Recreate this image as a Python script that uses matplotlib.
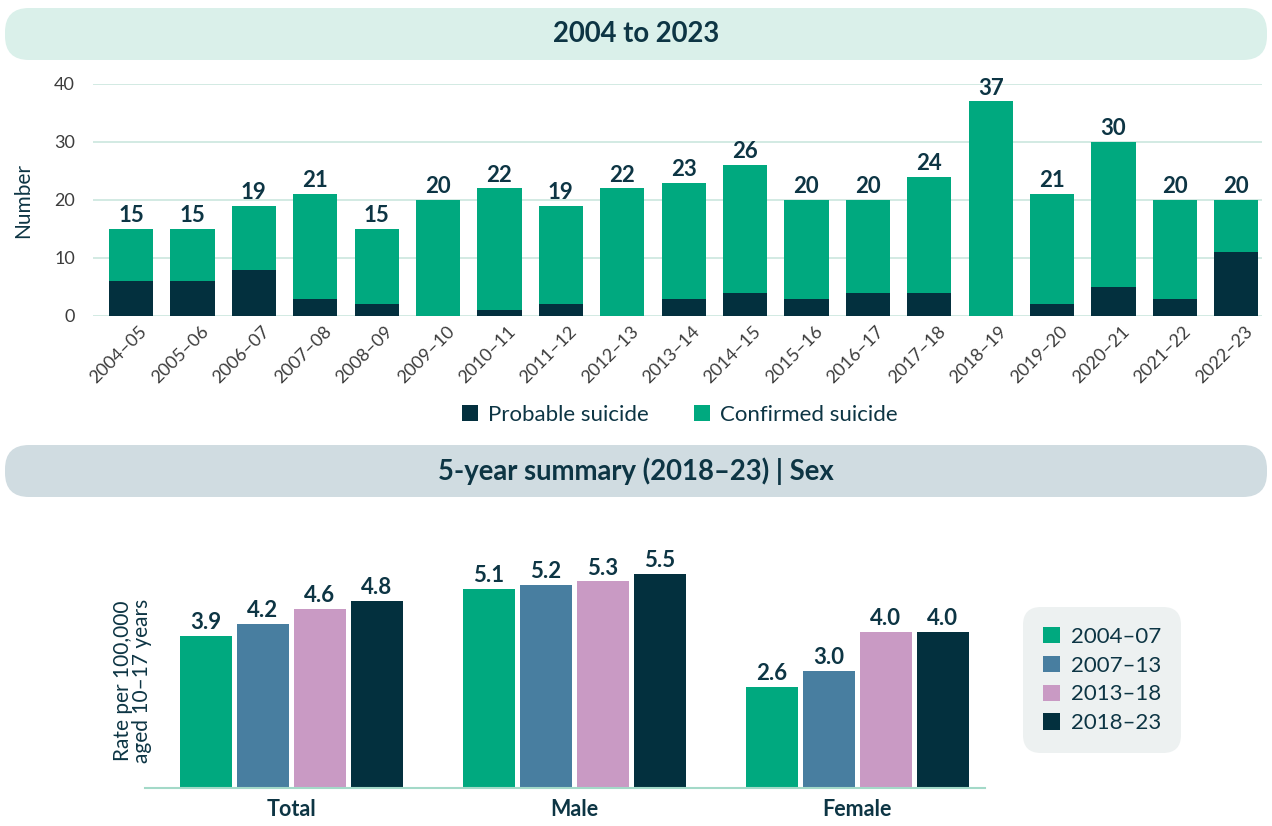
import matplotlib
matplotlib.use("Agg")
import matplotlib.pyplot as plt
from matplotlib.patches import FancyBboxPatch
from matplotlib.transforms import ScaledTranslation
import numpy as np

# ---- data ----
years = ["2004–05", "2005–06", "2006–07", "2007–08", "2008–09", "2009–10",
         "2010–11", "2011–12", "2012–13", "2013–14", "2014–15", "2015–16",
         "2016–17", "2017–18", "2018–19", "2019–20", "2020–21", "2021–22",
         "2022–23"]
probable = [6, 6, 8, 3, 2, 0, 1, 2, 0, 3, 4, 3, 4, 4, 0, 2, 5, 3, 11]
confirmed = [9, 9, 11, 18, 13, 20, 21, 17, 22, 20, 22, 17, 16, 20, 37, 19, 25, 17, 9]

groups = ["Total", "Male", "Female"]
periods = ["2004–07", "2007–13", "2013–18", "2018–23"]
rate_2004_07 = [3.9, 5.1, 2.6]
rate_2007_13 = [4.2, 5.2, 3.0]
rate_2013_18 = [4.6, 5.3, 4.0]
rate_2018_23 = [4.8, 5.5, 4.0]

# ---- style ----
FONT = "Lato"
plt.rcParams["font.family"] = [FONT, "DejaVu Sans"]
GREEN = "#00A97F"
DARK = "#03303E"
BLUE = "#487EA0"
PINK = "#C99AC4"
TXT = "#0D3544"
TICK = "#3C3C3C"
GRID = "#CFE8E0"

W, H = 1272, 826
fig = plt.figure(figsize=(W / 100, H / 100), dpi=100)

# background layer in pixel coordinates for the section headers
bg = fig.add_axes([0, 0, 1, 1], zorder=0)
bg.set_xlim(0, W)
bg.set_ylim(H, 0)
bg.axis("off")

def header(y0, h, color, label):
    bg.add_patch(FancyBboxPatch((5, y0), W - 10, h,
                                boxstyle="round,pad=0,rounding_size=24",
                                fc=color, ec="none"))
    bg.text(W / 2, y0 + h / 2, label, ha="center", va="center",
            fontsize=19.8, fontweight="bold", color=TXT)

header(8, 52, "#DAF0EA", "2004 to 2023")
header(445, 52, "#D0DCE1", "5-year summary (2018–23) | Sex")

# ---- top: stacked counts by year ----
ax1 = fig.add_axes([93 / W, (H - 316) / H, 1169 / W, 232 / H], zorder=2)
x = np.arange(len(years))
totals = [p + c for p, c in zip(probable, confirmed)]
b_prob = ax1.bar(x, probable, width=0.72, color=DARK, label="Probable suicide")
b_conf = ax1.bar(x, confirmed, bottom=probable, width=0.72, color=GREEN,
                 label="Confirmed suicide")
for xi, t in zip(x, totals):
    ax1.annotate(f"{t}", (xi, t), xytext=(0, 2), textcoords="offset points",
                 ha="center", va="bottom", fontsize=16, fontweight="bold",
                 color=TXT, annotation_clip=False)

ax1.set_ylim(0, 40)
ax1.set_xlim(-0.62, len(years) - 1 + 0.42)
ax1.set_yticks(range(0, 41, 10))
ax1.yaxis.grid(True, color=GRID, lw=1.3)
ax1.set_axisbelow(True)
for s in ax1.spines.values():
    s.set_visible(False)
ax1.tick_params(axis="both", length=0, labelsize=13, labelcolor=TICK)
ax1.tick_params(axis="y", pad=13)
ax1.set_xticks(x)
ax1.set_xticklabels(years, rotation=45, ha="right", va="top",
                    rotation_mode="anchor", fontsize=13)
ax1.tick_params(axis="x", pad=5)
shift = ScaledTranslation(8 / 100, 0, fig.dpi_scale_trans)
for lab in ax1.get_xticklabels():
    lab.set_transform(lab.get_transform() + shift)
ax1.set_ylabel("Number", fontsize=15, color=TXT, labelpad=15)

fig.legend(handles=[b_prob, b_conf], loc="center",
           bbox_to_anchor=(680 / W, 1 - 415 / H), ncol=2, frameon=False,
           fontsize=16, handlelength=0.72, handleheight=0.72,
           handletextpad=0.45, columnspacing=2.05, labelcolor=TXT)

# ---- bottom: rates by sex and period ----
ax2 = fig.add_axes([145 / W, 38 / H, 840 / W, 268 / H], zorder=2)
gx = np.arange(len(groups))
series = [rate_2004_07, rate_2007_13, rate_2013_18, rate_2018_23]
colors = [GREEN, BLUE, PINK, DARK]
step, bw = 0.2014, 0.184
handles = []
for i, (vals, col, lab) in enumerate(zip(series, colors, periods)):
    pos = gx + (i - 1.5) * step
    bars = ax2.bar(pos, vals, width=bw, color=col, label=lab)
    handles.append(bars)
    for px, v in zip(pos, vals):
        ax2.annotate(f"{v:.1f}", (px, v), xytext=(0, 2),
                     textcoords="offset points", ha="center", va="bottom",
                     fontsize=16, fontweight="bold", color=TXT)

ax2.set_ylim(0, 268 / 39)
ax2.set_xlim(-0.516, 2.452)
for k, s in ax2.spines.items():
    s.set_visible(k == "bottom")
ax2.spines["bottom"].set_color("#A3D9C8")
ax2.spines["bottom"].set_linewidth(1.5)
ax2.set_yticks([])
ax2.set_xticks(gx)
ax2.set_xticklabels(groups, fontsize=15.5, fontweight="bold", color=TXT)
ax2.tick_params(axis="x", length=0, pad=8)
ax2.set_ylabel("Rate per 100,000\naged 10–17 years", fontsize=15,
               color=TXT, linespacing=0.95)
ax2.yaxis.set_label_coords(0.008, 0.40)

leg = ax2.legend(handles=handles, loc="center",
                 bbox_to_anchor=(1102 / W, 1 - 680 / H),
                 bbox_transform=fig.transFigure, fontsize=16,
                 facecolor="#EDF1F1", edgecolor="none", framealpha=1,
                 handlelength=0.75, handleheight=0.75, handletextpad=0.5,
                 labelspacing=0.4, borderpad=0.88, labelcolor=TXT)
leg.get_frame().set_boxstyle("round,pad=0,rounding_size=0.8")

fig.savefig("out.png", dpi=100, facecolor="white")
